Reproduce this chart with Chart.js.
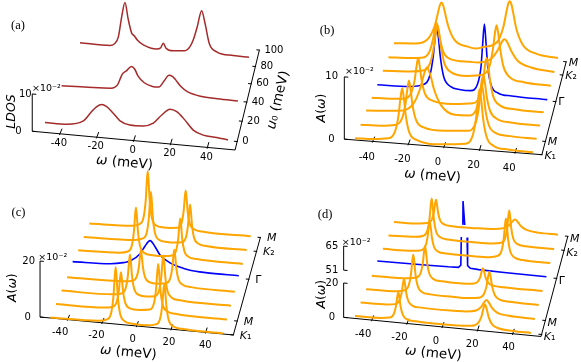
<!DOCTYPE html>
<html>
<head>
<meta charset="utf-8">
<title>LDOS and spectral functions</title>
<script src="https://cdn.jsdelivr.net/npm/chart.js@4.4.1/dist/chart.umd.min.js"></script>
<style>
  html, body { margin: 0; padding: 0; background: #fff; }
  #fig { position: relative; width: 581px; height: 362px; overflow: hidden; }
  #fig canvas { position: absolute; left: 0; top: 0; }
</style>
</head>
<body>
<div id="fig">
  <canvas id="pa" width="581" height="362"></canvas>
  <canvas id="pb" width="581" height="362"></canvas>
  <canvas id="pc" width="581" height="362"></canvas>
  <canvas id="pd" width="581" height="362"></canvas>
</div>
<script>
// ---- shared ticks ----
const omegaTicks = [-40, -20, 0, 20, 40]
const kPath = ['K₁', 'M', '', '', 'Γ', '', 'K₂', 'M']   // one spectrum per k point

// ---- (a) LDOS, [omega (meV), LDOS] ----
const u0Values = [0, 40, 90]
const u0Ticks = [0, 20, 40, 60, 80, 100]
const ldosTicks = [0, 0.1], ldosTickText = ['0', '10']
const ldosU0a = [[-50,.004],[-38,.005],[-29,.018],[-24.5,.045],[-21.7,.060],[-19,.067],[-16.3,.062],[-12.7,.046],[-9,.027],[-3.6,.018],[3.7,.019],[9.2,.029],[13.8,.053],[18.3,.071],[22,.066],[26.5,.045],[31,.020],[36.5,.009],[43.8,.006],[50,.002]]
const ldosU0b = [[-50,.001],[-35,.003],[-22,.006],[-18.3,.017],[-15.5,.049],[-13.1,.059],[-10.4,.072],[-8.5,.065],[-6.7,.047],[-3.3,.030],[1.5,.021],[5.2,.021],[8,.038],[10.9,.056],[12.8,.054],[14.7,.045],[17.5,.028],[21.3,.015],[28.8,.005],[38.3,.002],[50,.001]]
const ldosU0c = [[-50,.004],[-32,.003],[-29.3,.010],[-27.3,.030],[-25.3,.090],[-23.4,.132],[-21.4,.082],[-19.4,.044],[-17.9,.037],[-16.1,.025],[-12.5,.012],[-4.6,.003],[-2.2,.008],[-0.7,.022],[0.9,.008],[5.2,.002],[12.1,.005],[15.1,.018],[17,.038],[19.4,.078],[22,.126],[24,.090],[26.5,.032],[30.9,.009],[40.7,.002],[50,.001]]

// ---- (b) A(omega) along the k path ----
const bTicks = [0, 0.1], bTickText = ['0', '10']
const bK1 = [[-50,.003],[-39.5,.004],[-31.5,.007],[-27.5,.019],[-25.5,.046],[-24.5,.072],[-23.5,.089],[-22.5,.072],[-21.5,.046],[-19.5,.019],[-15.5,.008],[-2,.004],[12,.008],[16,.021],[18,.050],[19,.078],[20,.097],[21,.078],[22,.050],[24,.021],[28,.008],[36,.004],[50,.003]]
const bM1 = [[-50,.003],[-38.5,.004],[-30.5,.007],[-26.5,.018],[-24.5,.042],[-23.5,.065],[-22.5,.081],[-21.5,.065],[-20.5,.042],[-18.5,.018],[-14.5,.007],[-2,.004],[11,.007],[15,.018],[17,.042],[18,.066],[19,.082],[20,.066],[21,.042],[23,.018],[27,.007],[35,.004],[50,.003]]
const b2 = [[-50,.004],[-31,.008],[-23,.021],[-19,.047],[-17,.069],[-16,.078],[-15,.083],[-14,.078],[-13,.070],[-11,.048],[-7,.023],[1,.009],[9.3,.010],[13.3,.021],[15.3,.045],[16.3,.066],[17.3,.078],[18.3,.065],[19.3,.043],[21.3,.020],[25.3,.008],[33,.004],[50,.003]]
const b3 = [[-50,.003],[-39,.004],[-31,.006],[-27,.017],[-25,.039],[-24,.060],[-23,.075],[-22,.060],[-21,.039],[-19,.017],[-15,.007],[-3,.004],[8.8,.008],[12.8,.021],[14.8,.048],[15.8,.071],[16.8,.085],[17.8,.071],[18.8,.048],[20.8,.021],[24.8,.008],[33,.004],[50,.003]]
const bG = [[-50,.002],[-31,.004],[-23,.009],[-19,.026],[-17,.060],[-16,.089],[-15,.107],[-14,.089],[-13,.060],[-11,.026],[-7,.010],[-1,.006],[5,.006],[9,.018],[11,.047],[12,.086],[13,.119],[14,.086],[15,.047],[17,.018],[21,.006],[29,.003],[50,.002]]
const b5 = [[-50,.003],[-33.5,.006],[-25.5,.010],[-21.5,.026],[-19.5,.054],[-18.5,.075],[-17.5,.088],[-16.5,.075],[-15.5,.054],[-13.5,.026],[-9.5,.011],[0,.007],[9.7,.012],[13.7,.029],[15.7,.060],[16.7,.083],[17.7,.097],[18.7,.083],[19.7,.060],[21.7,.029],[25.7,.011],[34,.005],[50,.003]]
const bK2 = [[-50,.003],[-37,.005],[-29,.008],[-25,.021],[-23,.043],[-22,.059],[-21,.069],[-20,.059],[-19,.043],[-17,.021],[-13,.010],[-1,.008],[4,.008],[12,.017],[16,.033],[18,.045],[19,.050],[20,.052],[21,.050],[22,.045],[24,.033],[28,.017],[36,.008],[50,.004]]
const bM2 = [[-50,.004],[-37,.007],[-29,.018],[-25,.042],[-23,.066],[-22,.077],[-21,.082],[-20,.077],[-19,.066],[-17,.043],[-13,.019],[-5,.010],[0,.008],[4.6,.012],[12.6,.022],[16.6,.049],[18.6,.077],[19.6,.090],[20.6,.095],[21.6,.090],[22.6,.077],[24.6,.049],[28.6,.022],[36.6,.009],[50,.005]]

// ---- (c) ----
const cTicks = [0, 0.2], cTickText = ['0', '20']
const cK1 = [[-50,.002],[-22.2,.006],[-17.2,.014],[-14.7,.041],[-13.4,.103],[-12.8,.163],[-12.2,.203],[-11.6,.163],[-11,.103],[-9.7,.041],[-7.2,.014],[-2.2,.007],[6,.006],[11,.012],[13.5,.033],[14.8,.082],[15.4,.129],[16,.160],[16.6,.129],[17.2,.082],[18.5,.033],[21,.011],[26,.005],[50,.002]]
const cM1 = [[-50,.002],[-22,.005],[-17,.010],[-14.5,.029],[-13.2,.071],[-12.6,.111],[-12,.138],[-11.4,.111],[-10.8,.071],[-9.5,.029],[-7,.011],[-1,.008],[4.8,.013],[7.3,.037],[8.6,.092],[9.2,.145],[9.8,.180],[10.4,.145],[11,.092],[12.3,.037],[14.8,.013],[19.8,.006],[50,.002]]
const c2 = [[-50,.002],[-19.6,.005],[-14.6,.011],[-12.1,.032],[-10.8,.079],[-10.2,.125],[-9.6,.155],[-9,.125],[-8.4,.079],[-7.1,.032],[-4.6,.012],[0.2,.008],[5.1,.012],[7.6,.034],[8.9,.084],[9.5,.131],[10.1,.163],[10.7,.131],[11.3,.084],[12.6,.034],[15.1,.012],[20.1,.005],[50,.002]]
const c3 = [[-50,.002],[-16,.005],[-11,.010],[-8.5,.026],[-7.2,.063],[-6.6,.099],[-6,.123],[-5.4,.099],[-4.8,.063],[-3.5,.026],[-1,.010],[4,.007],[8.9,.011],[11.4,.029],[12.7,.070],[13.3,.110],[13.9,.137],[14.5,.110],[15.1,.070],[16.4,.029],[18.9,.011],[23.9,.005],[50,.002]]
const cG = [[-50,.010],[-27.4,.014],[-19.5,.022],[-15.4,.030],[-9.4,.060],[-6.4,.091],[-3.4,.112],[-0.4,.091],[2.6,.062],[8.6,.036],[14,.024],[20.6,.015],[30,.011],[50,.010]]
const c5 = [[-50,.002],[-24.9,.006],[-19.9,.013],[-17.4,.037],[-16.1,.092],[-15.5,.145],[-14.9,.180],[-14.3,.145],[-13.7,.092],[-12.4,.037],[-9.9,.013],[-4.9,.007],[2,.007],[7,.012],[9.5,.032],[10.8,.078],[11.4,.123],[12,.153],[12.6,.123],[13.2,.078],[14.5,.032],[17,.012],[22,.006],[50,.002]]
const cK2 = [[-50,.002],[-18.8,.006],[-13.8,.014],[-11.3,.039],[-10,.098],[-9.4,.154],[-8.8,.192],[-8.2,.154],[-7.6,.098],[-6.3,.039],[-3.8,.014],[1.2,.008],[5.2,.008],[10.2,.012],[12.7,.032],[14,.080],[14.6,.126],[15.2,.157],[15.8,.126],[16.4,.080],[17.7,.032],[20.2,.012],[25.2,.005],[50,.002]]
const cM2 = [[-50,.002],[-23.8,.006],[-18.8,.015],[-16.3,.044],[-15,.111],[-14.4,.176],[-13.8,.219],[-13.2,.176],[-12.6,.111],[-11.3,.044],[-8.8,.015],[-3.8,.009],[-0.3,.009],[4.7,.012],[7.2,.032],[8.5,.080],[9.1,.126],[9.7,.157],[10.3,.126],[10.9,.080],[12.2,.032],[14.7,.012],[19.7,.005],[50,.002]]

// ---- (d) (broken axis between 0.2 and 0.51) ----
const dTicks = [0, 0.2, 0.51, 0.65], dTickText = ['0', '20', '51', '65']
const dK1 = [[-50,.003],[-35.4,.006],[-30.4,.013],[-28,.036],[-26.7,.085],[-26,.137],[-25.4,.166],[-24.8,.137],[-24.1,.085],[-22.8,.036],[-20.4,.013],[-15.4,.006],[7.9,.005],[15.9,.011],[19.9,.031],[21.9,.073],[22.9,.115],[23.9,.143],[24.9,.115],[25.9,.073],[27.9,.031],[31.9,.011],[39.9,.005],[50,.003]]
const dM1 = [[-50,.003],[-35.1,.006],[-30.1,.013],[-27.7,.036],[-26.4,.084],[-25.7,.136],[-25.1,.165],[-24.5,.136],[-23.8,.084],[-22.5,.036],[-20.1,.013],[-15.1,.007],[5,.007],[10.3,.009],[16.3,.020],[19.3,.046],[20.8,.071],[22.3,.088],[23.8,.071],[25.3,.046],[28.3,.020],[34.3,.008],[50,.003]]
const d2 = [[-50,.003],[-32.7,.007],[-27.7,.017],[-25.3,.049],[-24,.118],[-23.3,.192],[-22.7,.233],[-22.1,.192],[-21.4,.118],[-20.1,.049],[-17.7,.017],[-12.7,.007],[0,.005],[9.4,.006],[15.4,.014],[18.2,.037],[19.8,.088],[20.6,.139],[21.4,.173],[22.2,.139],[23,.088],[24.6,.037],[27.4,.014],[33.4,.006],[50,.003]]
const d3 = [[-50,.003],[-28.8,.007],[-23.8,.016],[-21.4,.044],[-20.1,.106],[-19.4,.173],[-18.8,.210],[-18.2,.173],[-17.5,.106],[-16.2,.044],[-13.8,.016],[-8.8,.007],[3.1,.005],[9.1,.009],[12.1,.024],[13.6,.055],[14.35,.087],[15.1,.108],[15.85,.087],[16.6,.055],[18.1,.024],[21.1,.009],[27.1,.005],[50,.003]]
const dG = [[-50,.011],[-20,.012],[-8,.013],[-2,.015],[-0.6,.03],[-0.33,.2],[0,.4],[0.6,.51],[0.7,.655],[1.7,.51],[2.5,.35],[3.1,.2],[3.4,.03],[5,.016],[10,.012],[25,.008],[50,.005]]
const d5 = [[-50,.003],[-32,.007],[-27,.015],[-24.6,.041],[-23.3,.098],[-22.6,.159],[-22,.193],[-21.4,.159],[-20.7,.098],[-19.4,.041],[-17,.015],[-12,.007],[3,.005],[13.5,.007],[18.5,.019],[20.9,.053],[22.2,.128],[22.9,.208],[23.5,.253],[24.1,.208],[24.8,.128],[26.1,.053],[28.5,.019],[33.5,.007],[50,.003]]
const dK2 = [[-50,.003],[-33.9,.008],[-28.9,.019],[-26.5,.053],[-25.2,.128],[-24.5,.208],[-23.9,.253],[-23.3,.208],[-22.6,.128],[-21.3,.053],[-18.9,.019],[-13.9,.008],[0,.005],[12.9,.006],[17.9,.015],[20.4,.044],[21.7,.110],[22.3,.175],[22.9,.218],[23.5,.175],[24.1,.110],[25.4,.044],[27.9,.015],[32.9,.006],[50,.003]]
const dM2 = [[-50,.003],[-34.4,.006],[-29.4,.013],[-27,.035],[-25.7,.083],[-25,.134],[-24.4,.163],[-23.8,.134],[-23.1,.083],[-21.8,.035],[-19.4,.013],[-14.4,.006],[0,.005],[9.8,.008],[16.8,.019],[20.3,.041],[22,.063],[23.8,.078],[25.6,.063],[27.3,.041],[30.8,.019],[37.8,.008],[50,.005]]

// ---- 3d box geometry of each panel (screen corners of the omega=+-50 base lines) ----
const GA = { L0: [45, 124], R0: [228, 140.7], L1: [83.4, 36.2], R1: [251, 49.4], s0: 370, s1: 339, p: -0.14,
  wMin: -55, wMax: 55, tAxis: -0.08, wLab: [-1, 0, 9.5], dLab: [5, 0], aLabDx: [-10.6, -0.6], vLab: [0.053, -20.6],
  wName: [-9.2, 22.3], dName: [29.3, 7.2], tag: [18, 26], off: [-0.3, -5.3] }
const GB = { L0: [355, 140], R0: [533, 154], L1: [394, 45.5], R1: [558, 61], s0: 623, s1: 580, p: 0,
  wMin: -56, wMax: 55, tAxis: 0, wLab: [-6, 0, 15.6], dLab: [2.5, 1], aLabDx: [-9.6, -6.3], vLab: [0.05, -22.6],
  wName: [-11.5, 29], tag: [327, 31], off: [0.7, -5.2] }
const GC = { L0: [50.4, 318], R0: [223, 334], L1: [89.3, 224], R1: [250.7, 236.7], s0: 280, s1: 262, p: 0,
  wMin: -56, wMax: 56, tAxis: 0, wLab: [-4, 0.0875, 13], dLab: [6.5, 1], aLabDx: [-9.3, -5], vLab: [0.105, -27],
  wName: [-8.4, 26.7], tag: [18.5, 213], off: [-1.7, -3.3] }
const GD = { L0: [355, 316.5], R0: [531, 333.5], L1: [394, 222.5], R1: [558, 235.5], s0: 171.5, s1: 160, p: 0,
  wMin: -56, wMax: 56, tAxis: -0.02, wLab: [-6.5, 0.055, 14], dLab: [2.2, 3], aLabDx: [-8.6, -5.3, -5.3, -5.3], vLab: [0.135, -21.9],
  wName: [-9, 26.7], tag: [325, 214.3], off: [-1.9, -3.5], brk: { lo: 0.2, hi: 0.51, shift: 0.235 } }

const ORANGE = '#ffa500', BLUE = '#0000ff', BROWN = '#a52a2a'
const FONT = '"DejaVu Sans", "Liberation Sans", sans-serif'

// oblique projection: omega along the base line, t = depth (0..1), a = height
function project(g, w, t, a) {
  const tt = t * (1 - g.p) / (1 - g.p * t)
  const u = (w + 50) / 100
  const lx = g.L0[0] + (g.L1[0] - g.L0[0]) * tt, ly = g.L0[1] + (g.L1[1] - g.L0[1]) * tt
  const rx = g.R0[0] + (g.R1[0] - g.R0[0]) * tt, ry = g.R0[1] + (g.R1[1] - g.R0[1]) * tt
  const s = g.s0 + (g.s1 - g.s0) * tt
  return { x: lx + (rx - lx) * u, y: ly + (ry - ly) * u - a * s }
}

function mapA(g, a) {
  if (!g.brk) return a
  if (a <= g.brk.lo) return a
  if (a >= g.brk.hi) return a - g.brk.shift
  return null
}

// draw text made of runs [text, italic], rotated by ang
function write(ctx, parts, x, y, ang, size, align) {
  ctx.save()
  ctx.translate(x, y)
  ctx.rotate(ang)
  ctx.textBaseline = 'middle'
  ctx.textAlign = 'left'
  let total = 0
  parts.forEach(([s, it]) => { ctx.font = (it ? 'italic ' : '') + size + 'px ' + FONT; total += ctx.measureText(s).width })
  let cx = align === 'left' ? 0 : align === 'right' ? -total : -total / 2
  parts.forEach(([s, it]) => {
    ctx.font = (it ? 'italic ' : '') + size + 'px ' + FONT
    ctx.fillText(s, cx, 0)
    cx += ctx.measureText(s).width
  })
  ctx.restore()
}

function splitItalic(s) {
  return Array.from(s).map(ch => [ch, /[A-Za-z]/.test(ch)])
}

function boxPlugin(g, ax) {
  return {
    id: 'box3d',
    beforeDatasetsDraw(chart) {
      const ctx = chart.ctx, sx = chart.scales.x, sy = chart.scales.y
      const at = (w, t, a) => { const q = project(g, w, t, a); return [sx.getPixelForValue(q.x), sy.getPixelForValue(q.y)] }
      const line = (p, q) => { ctx.beginPath(); ctx.moveTo(p[0], p[1]); ctx.lineTo(q[0], q[1]); ctx.stroke() }
      const t0 = g.tAxis
      ctx.save()
      ctx.strokeStyle = '#000'
      ctx.fillStyle = '#000'
      ctx.lineWidth = 1

      // omega axis
      const w0 = at(g.wMin, t0, 0), w1 = at(g.wMax, t0, 0)
      line(w0, w1)
      omegaTicks.forEach(w => {
        line(at(w, t0 - 0.012, 0), at(w, t0 + 0.05, 0))
        const p = at(w, t0, 0)
        write(ctx, [[String(w), false]], p[0] + g.wLab[0] + g.wLab[1] * w, p[1] + g.wLab[2], 0, 10, 'center')
      })
      const c0 = at(0, t0, 0)
      write(ctx, [['ω', true], [' (meV)', false]], c0[0] + g.wName[0], c0[1] + g.wName[1],
        Math.atan2(w1[1] - w0[1], w1[0] - w0[0]), 13.5, 'center')

      // depth axis
      const d0 = at(g.wMax, t0, 0), d1 = at(g.wMax, 1, 0)
      line(d0, d1)
      ax.depthTicks.forEach(([t, label]) => {
        line(at(g.wMax - 1.8, t, 0), at(g.wMax + 0.4, t, 0))
        const p = at(g.wMax, t, 0)
        write(ctx, ax.italicDepth ? splitItalic(label) : [[label, false]], p[0] + g.dLab[0], p[1] + g.dLab[1], 0, ax.depthSize, 'left')
      })
      if (ax.depthName) {
        const m = at(g.wMax, 0.5, 0)
        write(ctx, ax.depthName, m[0] + g.dName[0], m[1] + g.dName[1], Math.atan2(d1[1] - d0[1], d1[0] - d0[0]), 13.5, 'center')
      }

      // vertical axis (possibly broken)
      ax.segs.forEach(([a0, a1]) => line(at(g.wMin, t0, mapA(g, a0)), at(g.wMin, t0, mapA(g, a1))))
      ax.ticks.forEach((a, i) => {
        const p = at(g.wMin, t0, mapA(g, a))
        line(p, at(g.wMin + 2.2, t0, mapA(g, a)))
        write(ctx, [[ax.tickText[i], false]], p[0] + g.aLabDx[i], p[1], 0, 10, 'right')
      })
      const top = at(g.wMin, t0, mapA(g, ax.ticks[ax.ticks.length - 1]))
      write(ctx, [['×10⁻²', false]], top[0] + g.off[0], top[1] + g.off[1], 0, 9.5, 'left')
      const v = at(g.wMin, t0, g.vLab[0])
      write(ctx, ax.valueName, v[0] + g.vLab[1], v[1], -Math.PI / 2, 12.5, 'center')

      // panel tag
      ctx.font = '12.5px "Liberation Serif", serif'
      ctx.textAlign = 'center'
      ctx.textBaseline = 'middle'
      ctx.fillText(ax.tag, g.tag[0], g.tag[1])
      ctx.restore()
    }
  }
}

function buildPanel(id, g, series, ax) {
  const sets = series.map(s => ({
    data: s.pts.map(([w, a]) => {
      const v = s.broken ? mapA(g, a) : a
      const q = project(g, w, s.t, v === null ? 0 : v)
      return { x: q.x, y: v === null ? null : q.y }
    }),
    borderColor: s.color,
    borderWidth: s.width,
    pointRadius: 0,
    fill: false,
    tension: 0,
    cubicInterpolationMode: s.broken ? 'default' : 'monotone',
    spanGaps: false
  }))
  new Chart(document.getElementById(id), {
    type: 'line',
    data: { datasets: sets },
    options: {
      responsive: false,
      animation: false,
      events: [],
      layout: { padding: 0 },
      plugins: { legend: { display: false }, tooltip: { enabled: false } },
      scales: {
        x: { type: 'linear', min: 0, max: 581, display: false },
        y: { type: 'linear', min: 0, max: 362, reverse: true, display: false }
      }
    },
    plugins: [boxPlugin(g, ax)]
  })
}

// spectra along the path, Gamma (blue) drawn underneath
function pathSeries(list, broken) {
  const out = []
  list.forEach((pts, i) => { if (kPath[i] !== 'Γ') out.push({ pts, t: i / (list.length - 1), color: ORANGE, width: 2 }) })
  list.forEach((pts, i) => { if (kPath[i] === 'Γ') out.push({ pts, t: i / (list.length - 1), color: BLUE, width: 1.6, broken }) })
  return out
}
const kTicks = kPath.map((k, i) => [i / (kPath.length - 1), k]).filter(d => d[1] !== '')

buildPanel('pa', GA,
  [ldosU0a, ldosU0b, ldosU0c].map((pts, i) => ({ pts, t: u0Values[i] / 100, color: BROWN, width: 1.5 })),
  { depthTicks: u0Ticks.map(u => [u / 100, String(u)]), depthSize: 10, italicDepth: false,
    depthName: [['u', true], ['₀ (meV)', false]], segs: [[0, 0.1]], ticks: ldosTicks, tickText: ldosTickText,
    valueName: [['LDOS', true]], tag: '(a)' })

buildPanel('pb', GB, pathSeries([bK1, bM1, b2, b3, bG, b5, bK2, bM2], false),
  { depthTicks: kTicks, depthSize: 11, italicDepth: true, segs: [[0, 0.1]], ticks: bTicks, tickText: bTickText,
    valueName: [['A', true], ['(', false], ['ω', true], [')', false]], tag: '(b)' })

buildPanel('pc', GC, pathSeries([cK1, cM1, c2, c3, cG, c5, cK2, cM2], false),
  { depthTicks: kTicks, depthSize: 11, italicDepth: true, segs: [[0, 0.2]], ticks: cTicks, tickText: cTickText,
    valueName: [['A', true], ['(', false], ['ω', true], [')', false]], tag: '(c)' })

buildPanel('pd', GD, pathSeries([dK1, dM1, d2, d3, dG, d5, dK2, dM2], true),
  { depthTicks: kTicks, depthSize: 11, italicDepth: true, segs: [[0, 0.2], [0.51, 0.65]], ticks: dTicks, tickText: dTickText,
    valueName: [['A', true], ['(', false], ['ω', true], [')', false]], tag: '(d)' })
</script>
</body>
</html>
